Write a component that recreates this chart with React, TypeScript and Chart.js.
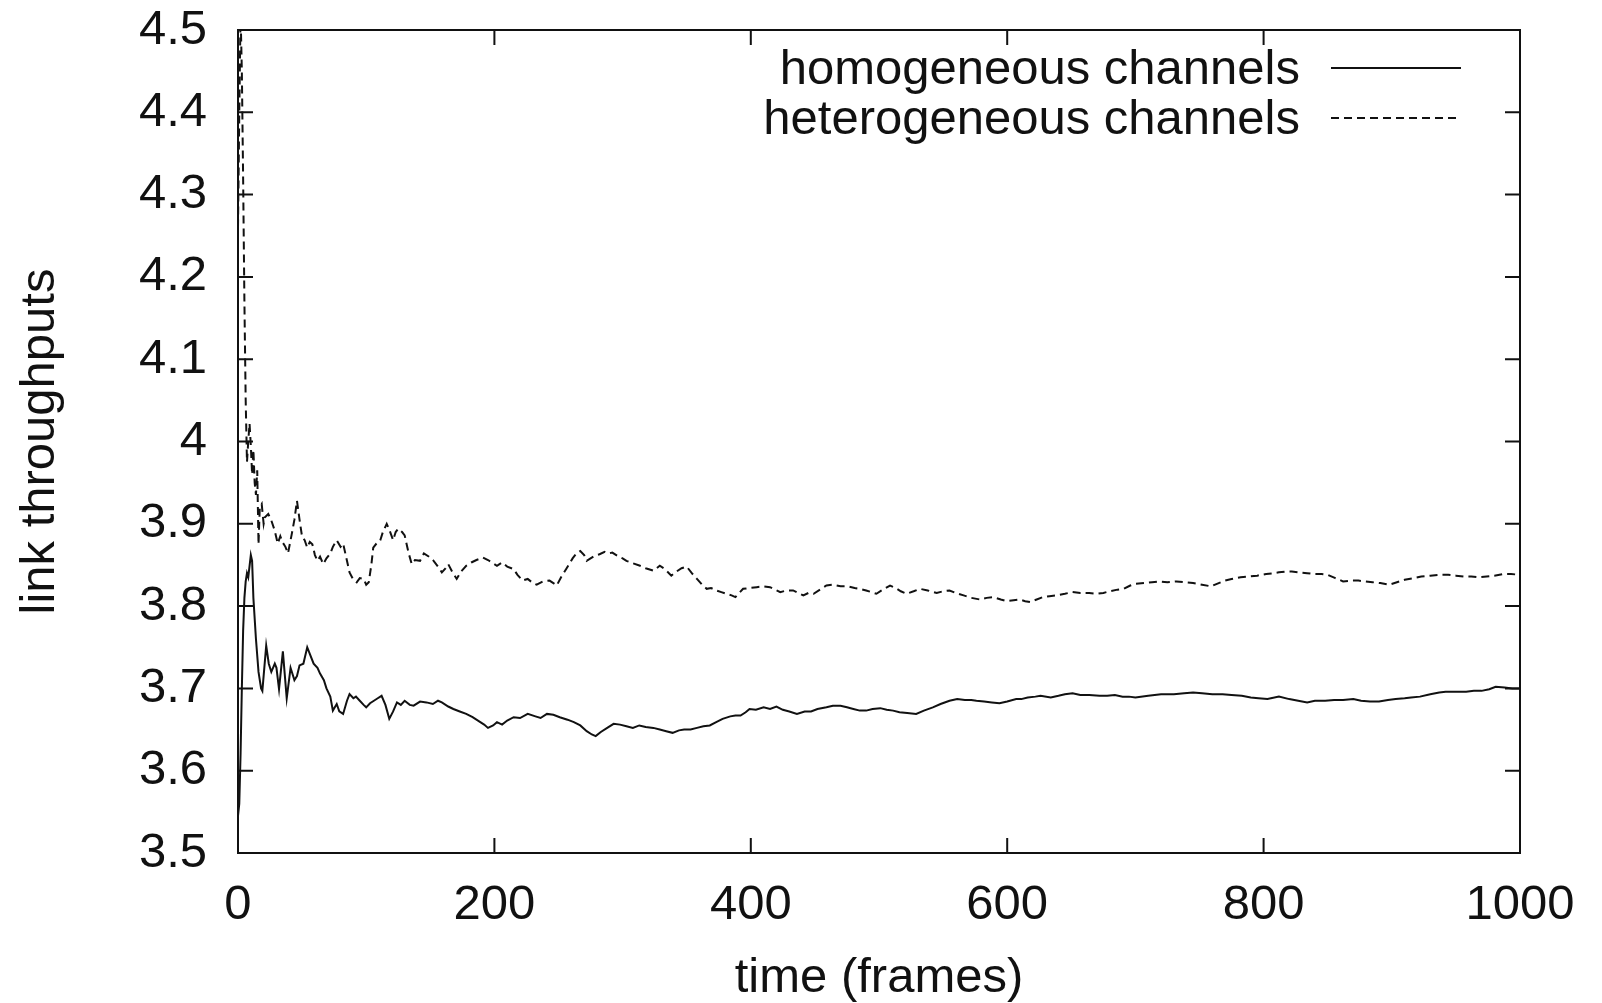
import React, { useEffect, useRef } from "react";
import { Chart, registerables } from "chart.js";

Chart.register(...registerables);

// ---- data ----
const homFrames = [0, 1, 2, 3, 4, 5, 6, 7, 8, 10, 11, 12, 14, 16, 18, 19, 22, 24, 26, 28.7, 30, 32, 35, 38, 41, 44, 46, 48, 51, 54, 56, 59, 62, 64, 67, 69, 72, 74, 77, 79, 82, 85, 87, 90, 92, 95, 98, 100, 103, 106, 109, 112, 115, 118, 121, 124, 127, 130, 134, 137, 142, 147, 152, 156, 159, 164, 168, 173, 178, 183, 189, 192, 195, 199, 202, 206, 210, 215, 220, 226, 232, 236, 241, 246, 251, 257, 262, 267, 272, 276, 279, 283, 288, 293, 298, 303, 308, 313, 318, 324, 329, 334, 339, 344, 348, 353, 358, 363, 368, 373, 378, 384, 388, 392, 396, 399, 404, 410, 415, 420, 425, 430, 436, 442, 447, 452, 459, 464, 470, 475, 480, 485, 490, 495, 501, 506, 511, 516, 522, 529, 535, 542, 548, 555, 561, 567, 572, 576, 582, 588, 594, 600, 607, 611, 616, 622, 626, 634, 640, 645, 651, 657, 664, 672, 678, 684, 690, 695, 700, 710, 720, 730, 738, 745, 752, 760, 768, 775, 783, 790, 796, 803, 812, 820, 827, 834, 840, 848, 855, 862, 870, 876, 883, 890, 897, 903, 910, 915, 922, 930, 937, 942, 950, 958, 964, 970, 976, 981, 988, 994, 1000];
const homValues = [3.545, 3.56, 3.62, 3.7, 3.77, 3.81, 3.83, 3.84, 3.835, 3.862, 3.855, 3.81, 3.76, 3.72, 3.7, 3.697, 3.752, 3.73, 3.72, 3.73, 3.725, 3.699, 3.745, 3.688, 3.725, 3.71, 3.715, 3.728, 3.73, 3.75, 3.742, 3.73, 3.725, 3.718, 3.71, 3.7, 3.69, 3.673, 3.681, 3.672, 3.669, 3.685, 3.693, 3.688, 3.69, 3.685, 3.68, 3.677, 3.682, 3.685, 3.688, 3.691, 3.68, 3.663, 3.672, 3.683, 3.68, 3.685, 3.68, 3.679, 3.684, 3.683, 3.681, 3.685, 3.683, 3.678, 3.675, 3.672, 3.669, 3.665, 3.659, 3.656, 3.652, 3.655, 3.659, 3.656, 3.661, 3.665, 3.664, 3.669, 3.666, 3.664, 3.669, 3.668, 3.665, 3.662, 3.659, 3.655, 3.648, 3.644, 3.642, 3.647, 3.652, 3.657, 3.656, 3.654, 3.652, 3.655, 3.653, 3.652, 3.65, 3.648, 3.646, 3.649, 3.65, 3.65, 3.652, 3.654, 3.655, 3.659, 3.663, 3.666, 3.667, 3.667, 3.671, 3.675, 3.674, 3.677, 3.675, 3.678, 3.674, 3.672, 3.669, 3.672, 3.672, 3.675, 3.677, 3.679, 3.679, 3.677, 3.675, 3.673, 3.673, 3.675, 3.676, 3.674, 3.673, 3.671, 3.67, 3.669, 3.673, 3.677, 3.681, 3.685, 3.687, 3.686, 3.686, 3.685, 3.684, 3.683, 3.682, 3.684, 3.687, 3.687, 3.689, 3.69, 3.691, 3.689, 3.691, 3.693, 3.694, 3.692, 3.692, 3.691, 3.691, 3.692, 3.69, 3.69, 3.689, 3.691, 3.693, 3.693, 3.694, 3.695, 3.694, 3.693, 3.693, 3.692, 3.691, 3.689, 3.688, 3.687, 3.69, 3.687, 3.685, 3.683, 3.685, 3.685, 3.686, 3.686, 3.687, 3.685, 3.684, 3.684, 3.686, 3.687, 3.688, 3.689, 3.69, 3.693, 3.695, 3.696, 3.696, 3.696, 3.697, 3.697, 3.699, 3.702, 3.701, 3.7, 3.7];

const hetFrames = [0, 1, 2, 3, 4, 5, 6, 7, 8, 9, 10, 11, 12, 13, 14, 15, 16, 17, 18.5, 20, 21, 23.6, 26, 28.6, 31, 33, 35, 37, 39, 42, 44, 46, 48, 50, 52, 54, 56, 58, 60, 62, 64, 66.5, 69, 72, 74, 77, 80, 82, 85, 87, 90, 92.6, 95, 98, 100, 102, 104, 105.5, 108, 111, 113, 116, 118, 121, 123, 125, 128, 130, 133, 135.5, 138, 142, 145, 149, 152.6, 156, 159, 162, 164, 167, 170.6, 174, 178, 182, 186, 191, 195, 199, 202, 206, 210, 215, 218, 222, 226, 230, 233, 238, 243, 246, 248.6, 252, 256, 261, 264, 267, 270, 272, 275, 278, 282, 286, 289, 292, 296, 300, 303, 308, 313.6, 318, 324, 329, 333, 338, 342, 346, 350, 354, 358, 362, 365.6, 369, 373, 377, 381, 385, 388, 391, 394, 399, 404.6, 410, 415, 419, 423, 428, 433, 437, 441, 445, 449, 454, 459, 464, 470, 476, 481, 485, 490, 494, 498, 503, 508.6, 513, 517, 521.6, 527, 532, 538, 545, 550, 555, 560, 566, 572, 578.8, 584, 589, 595, 599.6, 605, 610, 614, 617.8, 623, 628, 633, 638, 645, 651, 657, 664, 670, 675, 680, 686, 691, 696, 700, 707, 713, 719, 725, 732, 738, 745, 752, 759, 765, 770, 775, 782, 789, 795, 802, 808, 812, 817, 822, 828, 834, 839, 845, 850, 856, 862, 868, 874, 879, 885, 891, 898, 904, 910, 917, 923, 930, 937, 944, 950, 956, 962, 968, 974, 980, 987, 993, 1000];
const hetValues = [4.26, 4.4, 4.52, 4.45, 4.32, 4.17, 4.05, 3.975, 4.0, 4.022, 3.995, 3.96, 3.99, 3.95, 3.935, 3.965, 3.875, 3.92, 3.924, 3.9, 3.908, 3.912, 3.904, 3.892, 3.876, 3.885, 3.877, 3.872, 3.864, 3.888, 3.905, 3.928, 3.905, 3.884, 3.88, 3.871, 3.878, 3.875, 3.862, 3.855, 3.86, 3.851, 3.858, 3.864, 3.872, 3.88, 3.872, 3.876, 3.855, 3.841, 3.832, 3.829, 3.834, 3.833, 3.826, 3.829, 3.85, 3.871, 3.876, 3.88, 3.89, 3.9, 3.893, 3.88, 3.89, 3.894, 3.89, 3.886, 3.865, 3.851, 3.856, 3.855, 3.864, 3.86, 3.855, 3.848, 3.841, 3.846, 3.851, 3.842, 3.833, 3.842, 3.849, 3.853, 3.856, 3.859, 3.856, 3.852, 3.849, 3.853, 3.848, 3.845, 3.838, 3.831, 3.833, 3.828, 3.826, 3.83, 3.831, 3.828, 3.825, 3.835, 3.845, 3.858, 3.864, 3.867, 3.862, 3.855, 3.858, 3.861, 3.863, 3.866, 3.864, 3.865, 3.861, 3.858, 3.855, 3.852, 3.849, 3.846, 3.843, 3.849, 3.845, 3.837, 3.842, 3.846, 3.848, 3.84, 3.833, 3.826, 3.821, 3.822, 3.819, 3.817, 3.815, 3.813, 3.811, 3.816, 3.821, 3.822, 3.823, 3.824, 3.823, 3.82, 3.817, 3.819, 3.819, 3.816, 3.813, 3.816, 3.815, 3.82, 3.825, 3.826, 3.824, 3.824, 3.822, 3.821, 3.819, 3.817, 3.815, 3.82, 3.825, 3.822, 3.818, 3.815, 3.818, 3.821, 3.819, 3.816, 3.818, 3.819, 3.816, 3.813, 3.81, 3.808, 3.81, 3.811, 3.808, 3.806, 3.807, 3.808, 3.806, 3.805, 3.808, 3.811, 3.812, 3.813, 3.815, 3.817, 3.816, 3.816, 3.815, 3.816, 3.818, 3.82, 3.821, 3.825, 3.827, 3.828, 3.829, 3.83, 3.829, 3.83, 3.829, 3.828, 3.826, 3.824, 3.828, 3.831, 3.833, 3.835, 3.836, 3.837, 3.839, 3.84, 3.841, 3.842, 3.842, 3.841, 3.84, 3.839, 3.839, 3.838, 3.834, 3.83, 3.831, 3.831, 3.83, 3.829, 3.828, 3.826, 3.829, 3.832, 3.834, 3.836, 3.837, 3.838, 3.838, 3.837, 3.836, 3.836, 3.835, 3.836, 3.837, 3.839, 3.839, 3.838];

const seriesLabels = ["homogeneous channels", "heterogeneous channels"];
const xTickValues = [0, 200, 400, 600, 800, 1000];
const yTickValues = [3.5, 3.6, 3.7, 3.8, 3.9, 4, 4.1, 4.2, 4.3, 4.4, 4.5];
const xTitle = "time (frames)";
const yTitle = "link throughputs";

const FONT = "'Liberation Sans', Arial, Helvetica, sans-serif";
const FONT_SIZE = 49;
const INK = "#111";
const DASH = [8, 5];

const frameTicksPlugin = {
  id: "gnuplotFrame",
  afterDatasetsDraw(chart: any) {
    const { ctx, chartArea: a, scales } = chart;
    const len = 15;
    ctx.save();
    ctx.strokeStyle = INK;
    ctx.lineWidth = 2;
    ctx.setLineDash([]);
    ctx.strokeRect(a.left, a.top, a.right - a.left, a.bottom - a.top);
    ctx.beginPath();
    for (const v of xTickValues) {
      const px = scales.x.getPixelForValue(v);
      ctx.moveTo(px, a.bottom);
      ctx.lineTo(px, a.bottom - len);
      ctx.moveTo(px, a.top);
      ctx.lineTo(px, a.top + len);
    }
    for (const v of yTickValues) {
      const py = scales.y.getPixelForValue(v);
      ctx.moveTo(a.left, py);
      ctx.lineTo(a.left + len, py);
      ctx.moveTo(a.right, py);
      ctx.lineTo(a.right - len, py);
    }
    ctx.stroke();

    // gnuplot-style key: text right-aligned, sample line to its right
    const rows = [68, 118];
    const textRight = 1300;
    const lineStart = 1331;
    const lineEnd = 1461;
    ctx.font = `${FONT_SIZE}px ${FONT}`;
    ctx.textAlign = "right";
    ctx.textBaseline = "middle";
    chart.data.datasets.forEach((ds: any, i: number) => {
      const y = rows[i];
      ctx.fillStyle = INK;
      ctx.fillText(ds.label, textRight, y + 2);
      ctx.beginPath();
      ctx.lineWidth = 1.9;
      ctx.setLineDash(ds.borderDash || []);
      ctx.moveTo(lineStart, y);
      ctx.lineTo(lineEnd, y);
      ctx.stroke();
    });
    ctx.restore();
  },
};

export default function App() {
  const ref = useRef<HTMLCanvasElement | null>(null);

  useEffect(() => {
    const canvas = ref.current;
    if (!canvas) return;
    const chart = new Chart(canvas, {
      type: "line",
      data: {
        datasets: [
          {
            label: seriesLabels[0],
            data: homFrames.map((f, i) => ({ x: f, y: homValues[i] })),
            borderColor: INK,
            borderWidth: 2,
            pointRadius: 0,
            tension: 0,
            fill: false,
          },
          {
            label: seriesLabels[1],
            data: hetFrames.map((f, i) => ({ x: f, y: hetValues[i] })),
            borderColor: INK,
            borderWidth: 2,
            borderDash: DASH,
            pointRadius: 0,
            tension: 0,
            fill: false,
          },
        ],
      },
      options: {
        animation: false,
        responsive: false,
        maintainAspectRatio: false,
        devicePixelRatio: 1,
        layout: { padding: { top: 30, right: 82, left: 0, bottom: 0 } },
        plugins: {
          legend: { display: false },
          tooltip: { enabled: false },
        },
        scales: {
          x: {
            type: "linear",
            min: 0,
            max: 1000,
            afterBuildTicks: (s: any) => {
              s.ticks = xTickValues.map((v) => ({ value: v }));
            },
            afterFit: (s: any) => {
              s.height = 150;
              s.paddingLeft = 0;
              s.paddingRight = 0;
              s.paddingTop = 0;
              s.paddingBottom = 0;
            },
            grid: { display: false, drawTicks: false },
            border: { display: false },
            ticks: {
              color: INK,
              padding: 23,
              maxRotation: 0,
              autoSkip: false,
              font: { family: FONT, size: FONT_SIZE },
              callback: (v: any) => String(v),
            },
            title: {
              display: true,
              text: xTitle,
              color: INK,
              font: { family: FONT, size: FONT_SIZE, lineHeight: 1 },
              padding: { top: 0, bottom: 0 },
            },
          },
          y: {
            type: "linear",
            min: 3.5,
            max: 4.5,
            afterBuildTicks: (s: any) => {
              s.ticks = yTickValues.map((v) => ({ value: v }));
            },
            afterFit: (s: any) => {
              s.width = 238;
              s.paddingLeft = 0;
              s.paddingRight = 0;
              s.paddingTop = 0;
              s.paddingBottom = 0;
            },
            grid: { display: false, drawTicks: false },
            border: { display: false },
            ticks: {
              color: INK,
              padding: 31,
              autoSkip: false,
              font: { family: FONT, size: FONT_SIZE },
              callback: (v: any) => String(Number(Number(v).toFixed(1))),
            },
            title: {
              display: true,
              text: yTitle,
              color: INK,
              font: { family: FONT, size: FONT_SIZE, lineHeight: 1 },
              padding: { top: 16, bottom: 0 },
            },
          },
        },
      },
      plugins: [frameTicksPlugin],
    });
    return () => chart.destroy();
  }, []);

  return (
    <div style={{ position: "fixed", left: 0, top: 0, width: 1602, height: 1003, background: "#fff" }}>
      <canvas ref={ref} width={1602} height={1003} style={{ width: 1602, height: 1003, display: "block" }} />
    </div>
  );
}
